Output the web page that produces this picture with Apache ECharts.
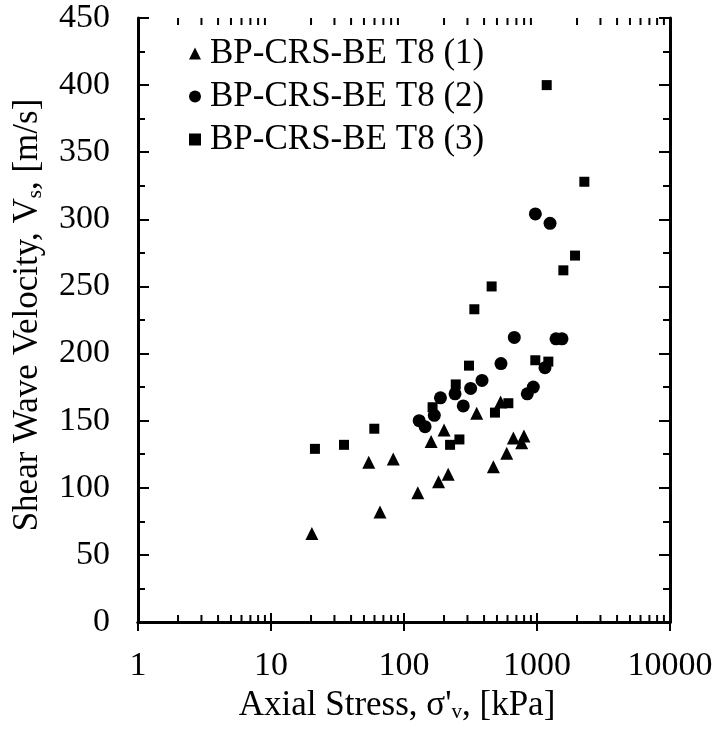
<!DOCTYPE html>
<html><head><meta charset="utf-8">
<script src="https://cdn.jsdelivr.net/npm/echarts@6/dist/echarts.min.js"></script>
<style>html,body{margin:0;padding:0;background:#fff}#c{width:718px;height:729px}</style>
</head><body><div id="c"></div>
<script>
const seriesNames = ['BP-CRS-BE T8 (1)', 'BP-CRS-BE T8 (2)', 'BP-CRS-BE T8 (3)'];
// Axial stress [kPa], Vs [m/s]
const t1Stress = [20.3, 54.3, 66, 83, 127, 160, 182, 200, 215, 352, 470, 533, 592, 664, 767, 798];
const t1Vs     = [66, 119, 82, 121.5, 96.3, 134.4, 104.5, 143, 110, 155.5, 115.7, 164, 125.7, 137, 133.6, 138.6];
const t2Stress = [130, 144, 169, 188, 242, 279, 317, 386, 536, 675, 845, 938, 1148, 1390, 1542, 972, 1253];
const t2Vs     = [150, 145.5, 154, 167, 170, 161, 174, 180, 192.5, 212, 170, 175, 189.5, 211, 211, 304, 297];
const t3Stress = [21.4, 35.4, 59.8, 164, 222, 261, 245, 308, 338, 456, 483, 609, 971, 1217, 1183, 1578, 1932, 2270];
const t3Vs     = [129, 132, 144, 160, 132, 136, 177, 191, 233, 250, 156, 163, 195, 194, 400, 262, 273, 328];
const xMinorTicks = [2,3,4,5,6,7,8,9,20,30,40,50,60,70,80,90,200,300,400,500,600,700,800,900,2000,3000,4000,5000,6000,7000,8000,9000];
const xTitle = 'Axial Stress, σ\'{s|v}, [kPa]';
const yTitle = 'Shear Wave Velocity, V{s|s}, [m/s]';

const zip = (a, b) => a.map((v, i) => [v, b[i]]);
const font = 'Liberation Serif';
const black = '#000';
const chart = echarts.init(document.getElementById('c'), null, {renderer: 'canvas'});
const richSub = {s: {fontSize: 21, fontFamily: font, color: black, padding: [15, 0, 0, 0]}};

const gridLeft = 138, gridRight = 48, gridTop = 18, gridBottom = 107;
const axisLineStyle = {color: black, width: 3};

const option = {
  animation: false,
  textStyle: {fontFamily: font, color: black},
  grid: {left: gridLeft, right: gridRight, top: gridTop, bottom: gridBottom, containLabel: false},
  legend: {
    orient: 'vertical', left: 184, top: 31, itemGap: 8,
    itemWidth: 12, itemHeight: 12,
    textStyle: {fontSize: 35, fontFamily: font, color: black, lineHeight: 35, padding: [0, 0, 0, 4]},
    data: seriesNames
  },
  xAxis: [{
    type: 'log', logBase: 10, min: 1, max: 10000, position: 'bottom',
    name: xTitle, nameLocation: 'middle', nameGap: 61,
    nameTextStyle: {fontSize: 35, fontFamily: font, color: black, rich: richSub, padding: [0, 14, 0, 0]},
    axisLine: {lineStyle: axisLineStyle},
    axisTick: {inside: true, length: 9, lineStyle: {color: black, width: 2}},
    axisLabel: {fontSize: 34, fontFamily: font, color: black, margin: 27, formatter: v => String(Math.round(v))},
    splitLine: {show: false}
  }, {
    type: 'log', logBase: 10, min: 1, max: 10000, position: 'top',
    axisLine: {lineStyle: axisLineStyle},
    axisTick: {inside: true, length: 9, lineStyle: {color: black, width: 2}},
    axisLabel: {show: false}, splitLine: {show: false}
  }],
  yAxis: [{
    type: 'value', min: 0, max: 450, interval: 50, position: 'left',
    name: yTitle, nameLocation: 'middle', nameGap: 92, nameRotate: 90,
    nameTextStyle: {fontSize: 35, fontFamily: font, color: black, rich: richSub, padding: [0, 0, 0, 10]},
    axisLine: {show: true, lineStyle: axisLineStyle},
    axisTick: {show: true, inside: true, length: 11, lineStyle: {color: black, width: 2}},
    minorTick: {show: true, splitNumber: 2, length: 7, lineStyle: {color: black, width: 2}},
    axisLabel: {fontSize: 34, fontFamily: font, color: black, margin: 28},
    splitLine: {show: false}, minorSplitLine: {show: false}
  }, {
    type: 'value', min: 0, max: 450, interval: 50, position: 'right',
    axisLine: {show: true, lineStyle: axisLineStyle},
    axisTick: {show: true, inside: true, length: 11, lineStyle: {color: black, width: 2}},
    minorTick: {show: true, splitNumber: 2, length: 7, lineStyle: {color: black, width: 2}},
    axisLabel: {show: false},
    splitLine: {show: false}, minorSplitLine: {show: false}
  }],
  series: [
    {name: seriesNames[0], type: 'scatter', symbol: 'triangle', symbolSize: 13,
     itemStyle: {color: black, opacity: 1}, data: zip(t1Stress, t1Vs)},
    {name: seriesNames[1], type: 'scatter', symbol: 'circle', symbolSize: 13,
     itemStyle: {color: black, opacity: 1}, data: zip(t2Stress, t2Vs)},
    {name: seriesNames[2], type: 'scatter', symbol: 'rect', symbolSize: 10,
     itemStyle: {color: black, opacity: 1}, data: zip(t3Stress, t3Vs)},
    {type: 'custom', silent: true, clip: false, xAxisIndex: 0, yAxisIndex: 0,
     data: xMinorTicks.map(v => [v]),
     renderItem: function (params, api) {
       const v = api.value(0);
       const b = api.coord([v, 0]);
       const t = api.coord([v, 450]);
       const st = {stroke: black, lineWidth: 2};
       return {type: 'group', children: [
         {type: 'line', shape: {x1: b[0], y1: b[1], x2: b[0], y2: b[1] - 7}, style: st},
         {type: 'line', shape: {x1: t[0], y1: t[1], x2: t[0], y2: t[1] + 7}, style: st}
       ]};
     }}
  ]
};
chart.setOption(option);
</script></body></html>
